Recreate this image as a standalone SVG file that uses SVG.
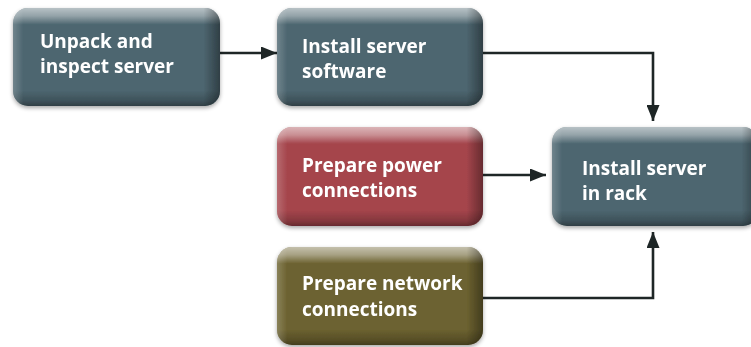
<svg xmlns="http://www.w3.org/2000/svg" width="751" height="347" viewBox="0 0 751 347">
  <style>
    .lbl { font-family: "Open Sans", "Liberation Sans", sans-serif; font-weight: 700; font-size: 19px; fill: #ffffff; }
    .wire { fill: none; stroke: #1e2626; stroke-width: 2.6; }
    .slate { fill: #4d6670; }
    .red { fill: #a5454c; }
    .olive { fill: #6c6230; }
  </style>
  <defs>
    <!-- glossy top edge and darker bottom rim -->
    <linearGradient id="shadeV" x1="0" y1="0" x2="0" y2="1">
      <stop offset="0" stop-color="#ffffff" stop-opacity="0.6"/>
      <stop offset="0.08" stop-color="#ffffff" stop-opacity="0.4"/>
      <stop offset="0.17" stop-color="#ffffff" stop-opacity="0"/>
      <stop offset="0.84" stop-color="#000000" stop-opacity="0"/>
      <stop offset="0.95" stop-color="#000000" stop-opacity="0.2"/>
      <stop offset="1" stop-color="#000000" stop-opacity="0.38"/>
    </linearGradient>
    <!-- lighter left rim, darker right rim -->
    <linearGradient id="shadeH" x1="0" y1="0" x2="1" y2="0">
      <stop offset="0" stop-color="#ffffff" stop-opacity="0.2"/>
      <stop offset="0.05" stop-color="#ffffff" stop-opacity="0"/>
      <stop offset="0.92" stop-color="#000000" stop-opacity="0"/>
      <stop offset="1" stop-color="#000000" stop-opacity="0.38"/>
    </linearGradient>
    <filter id="soft" x="-10%" y="-10%" width="120%" height="130%">
      <feGaussianBlur in="SourceAlpha" stdDeviation="2"/>
      <feOffset dy="2" result="b"/>
      <feComponentTransfer><feFuncA type="linear" slope="0.35"/></feComponentTransfer>
      <feMerge><feMergeNode/><feMergeNode in="SourceGraphic"/></feMerge>
    </filter>
    <marker id="head" viewBox="0 0 16 13" refX="16" refY="6.5" markerWidth="16" markerHeight="13" markerUnits="userSpaceOnUse" orient="auto">
      <path d="M0,0 L16,6.5 L0,13 Z" fill="#1e2626"/>
    </marker>
  </defs>

  <g id="connectors">
    <path class="wire" d="M220,53 H277" marker-end="url(#head)"/>
    <path class="wire" d="M483,53 H653 V121" marker-end="url(#head)"/>
    <path class="wire" d="M483,175 H546" marker-end="url(#head)"/>
    <path class="wire" d="M483,298 H653 V232" marker-end="url(#head)"/>
  </g>

  <g id="unpack" filter="url(#soft)">
    <rect class="slate" x="13" y="8" width="207" height="98" rx="15"/>
    <rect x="13" y="8" width="207" height="98" rx="15" fill="url(#shadeV)"/>
    <rect x="13" y="8" width="207" height="98" rx="15" fill="url(#shadeH)"/>
    <text class="lbl" x="40" y="48">Unpack and</text>
    <text class="lbl" x="40" y="73">inspect server</text>
  </g>

  <g id="install-software" filter="url(#soft)">
    <rect class="slate" x="277" y="8" width="206" height="98" rx="15"/>
    <rect x="277" y="8" width="206" height="98" rx="15" fill="url(#shadeV)"/>
    <rect x="277" y="8" width="206" height="98" rx="15" fill="url(#shadeH)"/>
    <text class="lbl" x="302" y="53">Install server</text>
    <text class="lbl" x="302" y="78">software</text>
  </g>

  <g id="prepare-power" filter="url(#soft)">
    <rect class="red" x="277" y="127" width="206" height="99" rx="15"/>
    <rect x="277" y="127" width="206" height="99" rx="15" fill="url(#shadeV)"/>
    <rect x="277" y="127" width="206" height="99" rx="15" fill="url(#shadeH)"/>
    <text class="lbl" x="302" y="172">Prepare power</text>
    <text class="lbl" x="302" y="197">connections</text>
  </g>

  <g id="install-rack" filter="url(#soft)">
    <rect class="slate" x="552" y="127" width="206" height="99" rx="15"/>
    <rect x="552" y="127" width="206" height="99" rx="15" fill="url(#shadeV)"/>
    <rect x="552" y="127" width="206" height="99" rx="15" fill="url(#shadeH)"/>
    <text class="lbl" x="582" y="175">Install server</text>
    <text class="lbl" x="582" y="200">in rack</text>
  </g>

  <g id="prepare-network" filter="url(#soft)">
    <rect class="olive" x="277" y="247" width="206" height="98" rx="15"/>
    <rect x="277" y="247" width="206" height="98" rx="15" fill="url(#shadeV)"/>
    <rect x="277" y="247" width="206" height="98" rx="15" fill="url(#shadeH)"/>
    <text class="lbl" x="302" y="290">Prepare network</text>
    <text class="lbl" x="302" y="316">connections</text>
  </g>
</svg>
